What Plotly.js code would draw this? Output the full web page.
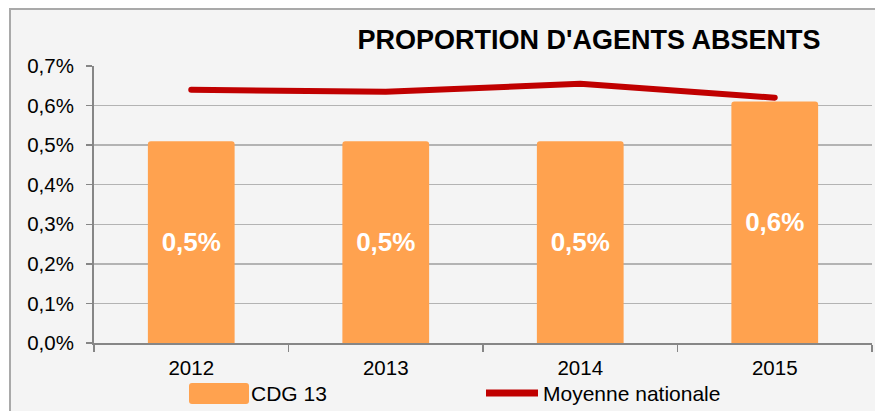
<!DOCTYPE html>
<html>
<head>
<meta charset="utf-8">
<script src="https://cdn.plot.ly/plotly-3.0.1.min.js"></script>
<style>
  html, body { margin: 0; padding: 0; background: #ffffff; width: 875px; height: 411px; overflow: hidden; }
  #frame { position: absolute; left: 9px; top: 8px; width: 900px; height: 440px; background: #f4f4f4; border: 2px solid #a9a9a9; box-sizing: border-box; }
  #chart { position: absolute; left: 0; top: 0; width: 875px; height: 411px; }
  .scatterlayer path.js-line { stroke-linecap: round; stroke-linejoin: round; }
</style>
</head>
<body>
<div id="frame"></div>
<div id="chart"></div>
<script>
// Data (values in %)
const years = ['2012', '2013', '2014', '2015'];
const cdg13 = [0.51, 0.51, 0.51, 0.61];
const moyenneNationale = [0.64, 0.635, 0.655, 0.62];
const seriesNames = ['CDG 13', 'Moyenne nationale'];
const chartTitle = "PROPORTION D'AGENTS ABSENTS";

const FONT = '"Liberation Sans", Arial, sans-serif';
const barLabels = cdg13.map(v => v.toFixed(1).replace('.', ',') + '%');

// plot area geometry in px (for legend placement)
const L = 94, R = 3, T = 66, B = 68, W = 875, H = 411;
const pw = W - L - R, ph = H - T - B;
const px = x => (x - L) / pw;
const py = y => (H - B - y) / ph;

const traces = [
  {
    type: 'bar', x: years, y: cdg13, name: seriesNames[0],
    marker: { color: '#FFA24F', cornerradius: 3 },
    text: barLabels, textposition: 'inside', insidetextanchor: 'middle',
    textangle: 0, constraintext: 'none',
    textfont: { family: FONT, size: 26, color: '#ffffff', weight: 'bold' },
    hoverinfo: 'skip', showlegend: false
  },
  {
    type: 'scatter', mode: 'lines', x: years, y: moyenneNationale, name: seriesNames[1],
    line: { color: '#C00000', width: 6 },
    hoverinfo: 'skip', showlegend: false
  }
];

const layout = {
  width: W, height: H,
  margin: { l: L, r: R, t: T, b: B, pad: 0 },
  paper_bgcolor: 'rgba(0,0,0,0)', plot_bgcolor: 'rgba(0,0,0,0)',
  separators: ',.',
  font: { family: FONT, size: 20.5, color: '#000000' },
  bargap: 0.554,
  showlegend: false,
  title: {
    text: '<b>' + chartTitle + '</b>',
    font: { family: FONT, size: 27, color: '#000000' },
    x: 589 / W, xanchor: 'center', xref: 'container',
    y: 1 - 40 / H, yanchor: 'middle', yref: 'container'
  },
  xaxis: {
    type: 'category',
    showline: true, linecolor: '#868686', linewidth: 2,
    ticks: 'outside', tickson: 'boundaries', ticklen: 7, tickcolor: '#868686', tickwidth: 1.5,
    showgrid: false, zeroline: false,
    tickfont: { family: FONT, size: 20.5, color: '#000000' },
    ticklabelstandoff: 5
  },
  yaxis: {
    range: [0, 0.7], dtick: 0.1, tick0: 0,
    tickformat: '.1f', ticksuffix: '%',
    showline: true, linecolor: '#868686', linewidth: 2,
    ticks: 'outside', ticklen: 6, tickcolor: '#868686', tickwidth: 1.5,
    showgrid: true, gridcolor: '#b3b3b3', gridwidth: 1.5,
    zeroline: false,
    tickfont: { family: FONT, size: 20.5, color: '#000000' },
    ticklabelstandoff: 8
  },
  shapes: [
    {
      type: 'path', xref: 'paper', yref: 'paper',
      xsizemode: 'pixel', ysizemode: 'pixel',
      xanchor: px(189), yanchor: py(404),
      path: 'M3,0 L57,0 Q60,0 60,3 L60,18 Q60,21 57,21 L3,21 Q0,21 0,18 L0,3 Q0,0 3,0 Z',
      fillcolor: '#FFA24F', line: { width: 0 }
    },
    {
      type: 'line', xref: 'paper', yref: 'paper',
      x0: px(486), x1: px(538), y0: py(393), y1: py(393),
      line: { color: '#C00000', width: 7 }
    }
  ],
  annotations: [
    {
      xref: 'paper', yref: 'paper', x: px(249), y: py(393),
      xanchor: 'left', yanchor: 'middle', showarrow: false,
      text: seriesNames[0], font: { family: FONT, size: 21, color: '#000000' }
    },
    {
      xref: 'paper', yref: 'paper', x: px(541), y: py(393),
      xanchor: 'left', yanchor: 'middle', showarrow: false,
      text: seriesNames[1], font: { family: FONT, size: 21, color: '#000000' }
    }
  ]
};

Plotly.newPlot('chart', traces, layout, { displayModeBar: false, staticPlot: true });
</script>
</body>
</html>
